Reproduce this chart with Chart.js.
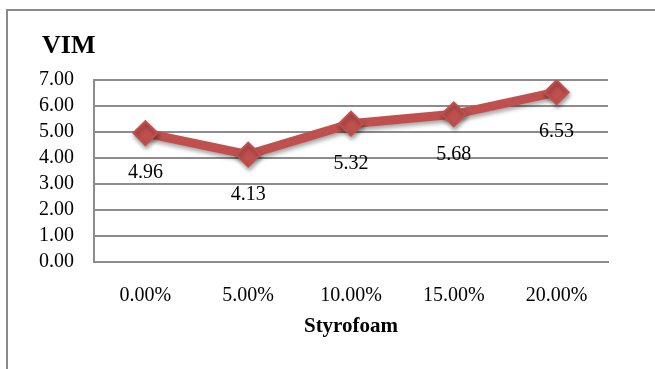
<!DOCTYPE html>
<html><head><meta charset="utf-8">
<script src="https://cdn.jsdelivr.net/npm/chart.js@4"></script>
<style>
html,body{margin:0;padding:0;background:#fff;}
#wrap{position:relative;width:655px;height:369px;overflow:hidden;}
#frame{position:absolute;left:6px;top:9px;width:700px;height:420px;border:2px solid #8a8a8a;box-sizing:border-box;}
canvas{position:absolute;left:0;top:0;}
</style></head><body>
<div id="wrap"><div id="frame"></div><canvas id="c" width="655" height="369"></canvas></div>
<script>
// Void content (VIM) against Styrofoam share
const categories = ['0.00%', '5.00%', '10.00%', '15.00%', '20.00%'];
const vimValues = [4.96, 4.13, 5.32, 5.68, 6.53];
const yTickValues = [0, 1, 2, 3, 4, 5, 6, 7];
const chartTitle = 'VIM';
const xAxisTitle = 'Styrofoam';

const SERIF = '"Liberation Serif", "Times New Roman", serif';
const RED = '#C0504D';
const GRID = '#8c8c8c';

// Soft drop shadow under the line and markers, then value labels beneath each point
const lineDecor = {
  id: 'lineDecor',
  beforeDatasetsDraw(chart) {
    const ctx = chart.ctx;
    ctx.save();
    ctx.shadowColor = 'rgba(0,0,0,0.35)';
    ctx.shadowBlur = 4;
    ctx.shadowOffsetX = 1;
    ctx.shadowOffsetY = 3;
  },
  afterDatasetsDraw(chart) {
    const ctx = chart.ctx;
    ctx.restore();
    const meta = chart.getDatasetMeta(0);
    const data = chart.data.datasets[0].data;
    ctx.save();
    ctx.font = '20px ' + SERIF;
    ctx.fillStyle = '#000';
    ctx.textAlign = 'center';
    ctx.textBaseline = 'middle';
    meta.data.forEach((pt, i) => {
      ctx.fillText(data[i].toFixed(2), pt.x, pt.y + 40);
    });
    ctx.restore();
  },
  afterDraw(chart) {
    const ctx = chart.ctx;
    ctx.save();
    ctx.font = 'bold 26px ' + SERIF;
    ctx.fillStyle = '#000';
    ctx.textAlign = 'left';
    ctx.textBaseline = 'alphabetic';
    ctx.fillText(chartTitle, chart.chartArea.left - 52, 53);
    ctx.restore();
  }
};

new Chart(document.getElementById('c'), {
  type: 'line',
  data: {
    labels: categories,
    datasets: [{
      label: chartTitle,
      data: vimValues,
      borderColor: RED,
      backgroundColor: RED,
      borderWidth: 9,
      pointStyle: 'rectRot',
      pointRadius: 12,
      pointBorderWidth: 2,
      pointBackgroundColor: RED,
      pointBorderColor: RED,
      tension: 0,
      fill: false
    }]
  },
  options: {
    responsive: false,
    devicePixelRatio: 1,
    animation: false,
    layout: { padding: { left: 37, right: 47, top: 80, bottom: 0 } },
    plugins: { legend: { display: false }, title: { display: false }, tooltip: { enabled: false } },
    scales: {
      x: {
        offset: true,
        grid: { display: false },
        border: { display: true, color: GRID, width: 2 },
        ticks: { color: '#000', font: { family: SERIF, size: 20 }, padding: 14, maxRotation: 0, autoSkip: false },
        title: { display: true, text: xAxisTitle, color: '#000', font: { family: SERIF, size: 21, weight: 'bold' }, padding: { top: 8, bottom: 30 } },
        afterFit(scale) { scale.height = 107; }
      },
      y: {
        min: 0,
        max: 7,
        afterBuildTicks(scale) { scale.ticks = yTickValues.map(v => ({ value: v })); },
        grid: { color: GRID, lineWidth: 2, drawTicks: false },
        border: { display: true, color: GRID, width: 2 },
        ticks: { color: '#000', font: { family: SERIF, size: 20 }, padding: 20, autoSkip: false, callback: v => Number(v).toFixed(2) },
        afterFit(scale) { scale.width = 57; }
      }
    }
  },
  plugins: [lineDecor]
});
</script>
</body></html>
